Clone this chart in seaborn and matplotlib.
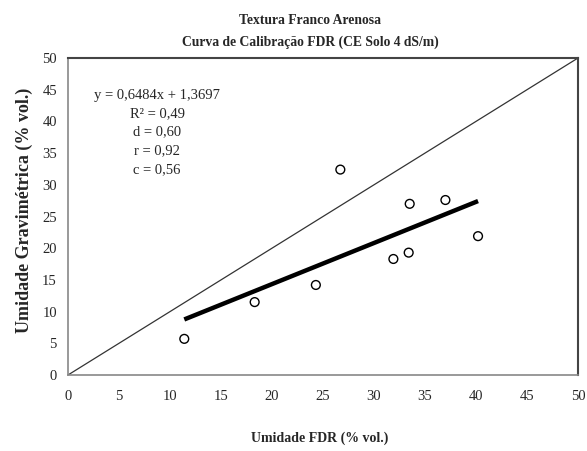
import matplotlib
matplotlib.use("Agg")
import matplotlib.pyplot as plt
import seaborn as sns
import numpy as np
import pandas as pd

# Data
fdr = [11.4, 18.3, 24.3, 26.7, 31.9, 33.4, 33.5, 37.0, 40.2]
grav = [5.7, 11.5, 14.2, 32.4, 18.3, 19.3, 27.0, 27.6, 21.9]
slope = 0.6484
intercept = 1.3697
stats_lines = ["y = 0,6484x + 1,3697", "R² = 0,49", "d = 0,60", "r = 0,92", "c = 0,56"]
ticks = [0, 5, 10, 15, 20, 25, 30, 35, 40, 45, 50]
title_lines = ["Textura Franco Arenosa", "Curva de Calibração FDR (CE Solo 4 dS/m)"]
xlabel = "Umidade FDR (% vol.)"
ylabel = "Umidade Gravimétrica (% vol.)"

sns.set_style("white")
plt.rcParams['font.family'] = ['Liberation Serif', 'DejaVu Serif']

fig = plt.figure(figsize=(5.87, 4.51), dpi=100)
ax = fig.add_axes([68/587, 76/451, 510/587, 317/451])

df = pd.DataFrame({"fdr": fdr, "grav": grav})

# 1:1 line
ax.plot([0, 50], [0, 50], color="#333333", lw=0.9, zorder=1)

# regression line
xl = np.array([min(fdr), max(fdr)])
ax.plot(xl, slope * xl + intercept, color="black", lw=3.2, zorder=2, solid_capstyle="butt")

sns.scatterplot(data=df, x="fdr", y="grav", ax=ax, marker="o", s=40,
                facecolor="none", edgecolor="black", linewidth=1.0, zorder=3)

ax.set_xlim(0, 50)
ax.set_ylim(0, 50)
ax.set_xticks(ticks)
ax.set_yticks(ticks)
ax.tick_params(axis="both", direction="out", length=4, width=1, color="#888888",
               labelsize=10.5)
ax.tick_params(axis="x", pad=7)
ax.tick_params(axis="y", pad=4)
for s in ["left", "bottom"]:
    ax.spines[s].set_color("#888888")
    ax.spines[s].set_linewidth(1.2)
for s in ["top", "right"]:
    ax.spines[s].set_color("#444444")
    ax.spines[s].set_linewidth(1.5)

ax.set_xlabel("")
ax.set_ylabel("")
fig.text(320/587, 1 - 438/451, xlabel, ha="center", va="center", fontsize=10, fontweight="bold")
fig.text(24/587, 1 - 210/451, ylabel, ha="center", va="center", rotation=90, fontsize=13, fontweight="bold")
fig.text(310/587, 1 - 20/451, title_lines[0], ha="center", va="center", fontsize=9.8, fontweight="bold")
fig.text(310/587, 1 - 42/451, title_lines[1], ha="center", va="center", fontsize=9.8, fontweight="bold")

ys = [95, 114, 132, 151, 170]
for t, yy in zip(stats_lines, ys):
    fig.text(157/587, 1 - yy/451, t, ha="center", va="center", fontsize=10.5)

fig.savefig("out.png", dpi=100)
